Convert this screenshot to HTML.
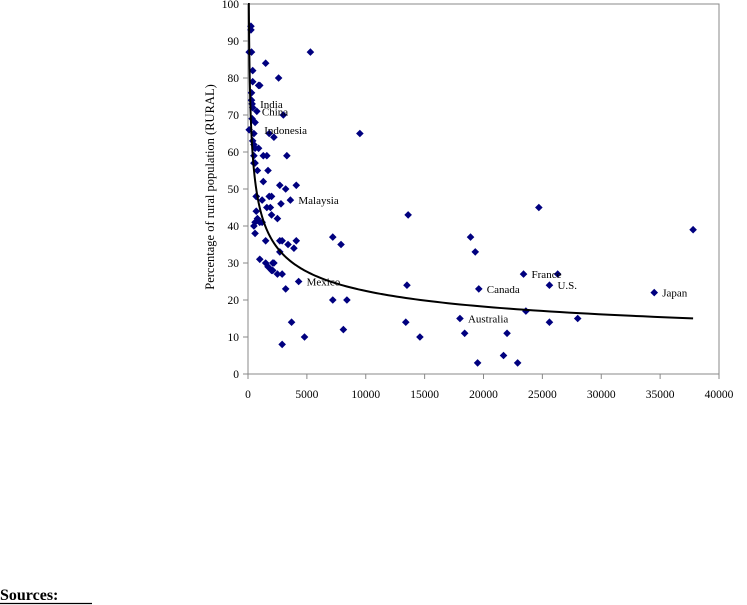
<!DOCTYPE html>
<html><head><meta charset="utf-8"><style>
body{margin:0;background:#fff;width:747px;height:605px;overflow:hidden;position:relative}
svg{position:absolute;left:0;top:0}
text{font-family:"Liberation Serif",serif}
</style></head><body>
<svg id="chart" width="747" height="605" viewBox="0 0 747 605">
<g id="axes"></g>
<g id="marks"></g>
<g id="labels"></g>
<text transform="translate(214,187) rotate(-90)" text-anchor="middle" font-size="12.5" fill="#000">Percentage of rural population (RURAL)</text>
<text x="0" y="600" font-size="16" font-weight="bold" fill="#000">Sources:</text>
<line x1="0" y1="603.5" x2="92" y2="603.5" stroke="#000" stroke-width="1.2"/>
</svg>
<script>
const xs=[250,250,300,100,5300,1500,400,2600,400,1000,900,300,300,350,400,750,3000,350,600,100,1800,500,2200,9500,400,500,900,600,500,1300,1600,3300,600,500,800,1700,1300,2700,3200,4100,700,2000,3600,700,1800,1200,2800,700,1600,1900,2000,800,1000,1200,600,2500,500,600,1500,2700,2900,4100,3400,3900,2700,1000,1500,2100,2200,1700,2000,2100,2500,2900,3200,4300,7200,8400,8100,3700,4800,2900,7200,7900,13600,24700,37800,18900,19300,23400,26300,13500,19600,25600,34500,23600,18000,28000,13400,25600,14600,18400,22000,21700,19500,22900];
const ys=[94,93,87,87,87,84,82,80,79,78,78,76,74,73,72,71,70,69,68,66,65,65,64,65,63,62,61,61,59,59,59,59,57,57,55,55,52,51,50,51,48,48,47,48,48,47,46,44,45,45,43,42,41,41,41,42,40,38,36,36,36,36,35,34,33,31,30,30,30,29,28,28,27,27,23,25,20,20,12,14,10,8,37,35,43,45,39,37,33,27,27,24,23,24,22,17,15,15,14,14,10,11,11,5,3,3];
const labelNames=["India","China","Indonesia","Malaysia","Mexico","Canada","France","U.S.","Japan","Australia"];
const labelX=[350,500,700,3600,4300,19600,23400,25600,34500,18000];
const labelY=[73,71,66,47,25,23,27,24,22,15];
const xTicks=[0,5000,10000,15000,20000,25000,30000,35000,40000];
const yTicks=[0,10,20,30,40,50,60,70,80,90,100];
const fitA=48, fitX0=800, fitK=0.301;
const X=v=>248+v/40000*471, Y=v=>374-v/100*370;
const NS="http://www.w3.org/2000/svg";
function mk(t,a,p){const e=document.createElementNS(NS,t);for(const k in a)e.setAttribute(k,a[k]);p.appendChild(e);return e;}
const ax=document.getElementById('axes');
const frame=mk('path',{d:`M${X(0)},${Y(100)} H${X(40000)} V${Y(0)}`,fill:'none',stroke:'#888','stroke-width':1},ax);

const yl=mk('line',{x1:X(0),y1:Y(0),x2:X(0),y2:Y(100),stroke:'#888'},ax);

const xl=mk('line',{x1:X(0),y1:Y(0),x2:X(40000),y2:Y(0),stroke:'#888'},ax);

xTicks.forEach(t=>{const l=mk('line',{x1:X(t),y1:Y(0),x2:X(t),y2:Y(0)+5,stroke:'#888'},ax);

const tx=mk('text',{x:X(t),y:398,'text-anchor':'middle','font-size':11.5},ax);tx.textContent=t;
});
yTicks.forEach(t=>{const l=mk('line',{x1:X(0)-5,y1:Y(t),x2:X(0),y2:Y(t),stroke:'#888'},ax);

const tx=mk('text',{x:239,y:Y(t)+4,'text-anchor':'end','font-size':11.5},ax);tx.textContent=t;
});
const mg=document.getElementById('marks');
xs.forEach((v,i)=>{const cx=X(v),cy=Y(ys[i]);
const d=mk('path',{d:`M${cx},${cy-3.8}L${cx+3.8},${cy}L${cx},${cy+3.8}L${cx-3.8},${cy}Z`,fill:'#00007f'},mg);
});
let pts=[];for(let v=60;v<=37800;v*=1.03){pts.push([X(v),Y(Math.min(100,fitA*Math.pow(v/fitX0,-fitK)))]);}
pts.push([X(37800),Y(fitA*Math.pow(37800/fitX0,-fitK))]);
const c=mk('path',{d:'M'+X(0)+','+Y(100)+' L'+pts.map(p=>p.join(',')).join(' L'),fill:'none',stroke:'#000','stroke-width':2},mg);

const lg=document.getElementById('labels');
labelNames.forEach((n,i)=>{const t=mk('text',{x:X(labelX[i])+8,y:Y(labelY[i])+4,'font-size':11},lg);t.textContent=n;
});
</script>
</body></html>
